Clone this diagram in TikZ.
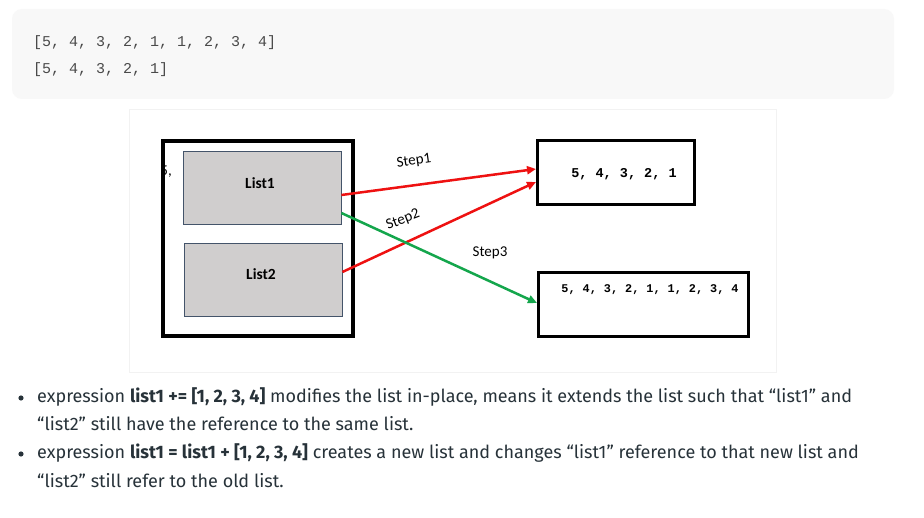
\documentclass[tikz,border=0pt]{standalone}
\usepackage{fontspec}
\setmainfont{Fira Sans}
\newfontfamily\monofont{Liberation Mono}
\newfontfamily\calfont{Carlito}
\usetikzlibrary{arrows.meta}
\definecolor{codebg}{HTML}{F8F8F8}
\definecolor{codefg}{HTML}{4A4A4A}
\definecolor{panelline}{HTML}{F2F2F2}
\definecolor{listfill}{HTML}{D0CECE}
\definecolor{listline}{HTML}{44546A}
\definecolor{redarrow}{HTML}{EE1111}
\definecolor{greenarrow}{HTML}{14A64C}
\definecolor{bodytext}{HTML}{273239}
\tikzset{
  frame/.style={draw=black, line width=4pt, fill=white, inner sep=0pt},
  listbox/.style={draw=listline, line width=0.8pt, fill=listfill, inner sep=0pt,
    minimum width=158pt, minimum height=73pt},
  valbox/.style={draw=black, line width=3pt, fill=white, inner sep=0pt, minimum height=64pt},
  listlabel/.style={font=\calfont\bfseries\fontsize{15.5pt}{18pt}\selectfont, inner sep=0pt},
  steplabel/.style={font=\calfont\fontsize{15pt}{17pt}\selectfont, inner sep=0pt},
  valtext/.style={font=\monofont\bfseries, inner sep=0pt},
  codetext/.style={font=\monofont\fontsize{15pt}{18pt}\selectfont, text=codefg, inner sep=0pt, anchor=base west},
  bullettext/.style={font=\fontsize{18pt}{21pt}\selectfont, text=bodytext, inner sep=0pt, anchor=base west},
  conn/.style={line width=2.5pt, -{Triangle[length=9pt,width=8pt]}},
}
\begin{document}
\begin{tikzpicture}[x=1pt,y=-1pt]
\useasboundingbox (0,0) rectangle (924,518);
\fill[white] (0,0) rectangle (924,518);
% code box
\fill[codebg, rounded corners=10pt] (12,9) rectangle (894,99);
\node[codetext] (code1) at (33,47) {[5, 4, 3, 2, 1, 1, 2, 3, 4]};
\node[codetext] (code2) at (33,74) {[5, 4, 3, 2, 1]};
% diagram panel
\draw[panelline, line width=0.8pt, fill=white] (129,109) rectangle (776,372);
% outer frame
\node[frame, minimum width=190pt, minimum height=195pt] (outer) at (258,238.5) {};
\begin{scope}
  \clip (163,150) rectangle (180,190);
  \node[steplabel, anchor=base east] (hidden) at (172,176) {5,};
\end{scope}
\node[listbox] (list1) at (262,187.5) {};
\node[listbox] (list2) at (263,279.5) {};
\node[listlabel] (l1) at (260,183) {List1};
\node[listlabel] (l2) at (261,274) {List2};
% value boxes
\node[valbox, minimum width=157pt] (box1) at (616,172.5) {};
\node[valbox, minimum width=210pt] (box2) at (643.5,304.5) {};
\node[valtext, font=\monofont\bfseries\fontsize{13.5pt}{16pt}\selectfont] (v1) at (624,174) {5, 4, 3, 2, 1};
\node[valtext, font=\monofont\bfseries\fontsize{11.8pt}{14pt}\selectfont] (v2) at (650,290) {5, 4, 3, 2, 1, 1, 2, 3, 4};
% arrows
\draw[conn, redarrow] ([yshift=-7.5pt]list1.east) -- ([yshift=3.5pt]box1.west);
\draw[conn, redarrow] ([yshift=7.5pt]list2.east) -- ([yshift=-9.5pt]box1.west);
\draw[conn, greenarrow] ([yshift=-25.5pt]list1.east) -- ([yshift=1.5pt]box2.west);
\node[steplabel, rotate=8] (s1) at (414,161) {Step1};
\node[steplabel, rotate=21] (s2) at (403,220) {Step2};
\node[steplabel] (s3) at (490,253) {Step3};
% bullets
\fill[bodytext] (21,398) circle (2.6pt);
\fill[bodytext] (21,454) circle (2.6pt);
\node[bullettext] (b1a) at (37,403) {expression \textbf{list1 += [1, 2, 3, 4]} modifies the list in-place, means it extends the list such that “list1” and};
\node[bullettext] (b1b) at (37,431) {“list2” still have the reference to the same list.};
\node[bullettext] (b2a) at (37,459) {expression \textbf{list1 = list1 + [1, 2, 3, 4]} creates a new list and changes “list1” reference to that new list and};
\node[bullettext] (b2b) at (37,487) {“list2” still refer to the old list.};
\end{tikzpicture}
\end{document}
